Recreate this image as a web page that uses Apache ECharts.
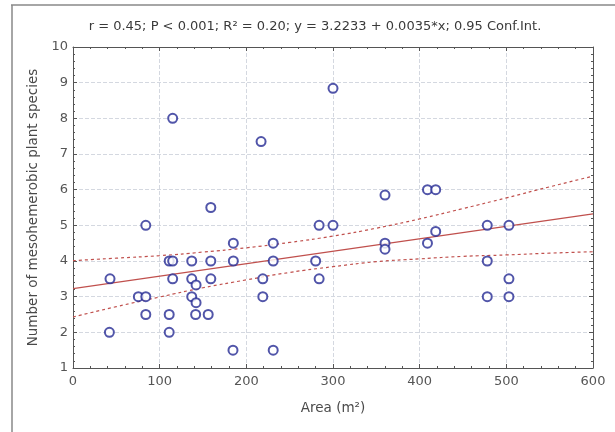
<!DOCTYPE html>
<html>
<head>
<meta charset="utf-8">
<script src="https://cdn.jsdelivr.net/npm/echarts@6/dist/echarts.min.js"></script>
<style>html,body{margin:0;padding:0;background:#fff}#c{width:615px;height:432px}</style>
</head>
<body>
<div id="c"></div>
<script>
const titleText = 'r = 0.45; P < 0.001; R\u00B2 = 0.20; y = 3.2233 + 0.0035*x; 0.95 Conf.Int.';
const xName = 'Area (m\u00B2)';
const yName = 'Number of mesohemerobic plant species';
const xTicks = [0, 100, 200, 300, 400, 500, 600];
const yTicks = [1, 2, 3, 4, 5, 6, 7, 8, 9, 10];

const areaValues = [42.7, 42, 84, 75.4, 84, 84, 111, 115, 115, 111, 111, 115, 137, 137, 137, 142, 142, 141.5,
  156, 159, 159, 159, 185, 185, 184.6, 217, 219, 219, 231, 231, 231, 300, 284, 300, 280, 284,
  360, 360, 360, 409, 418.5, 409, 418.5, 478, 503, 478, 503, 478, 503];
const speciesValues = [3.5, 2.0, 5.0, 3.0, 3.0, 2.5, 4.0, 4.0, 3.5, 2.5, 2.0, 8.0, 4.0, 3.5, 3.0, 3.33, 2.83, 2.5,
  2.5, 4.0, 3.5, 5.5, 4.5, 4.0, 1.5, 7.35, 3.5, 3.0, 4.5, 4.0, 1.5, 8.84, 5.0, 5.0, 4.0, 3.5,
  5.85, 4.5, 4.33, 6.0, 6.0, 4.5, 4.83, 5.0, 5.0, 4.0, 3.5, 3.0, 3.0];

const fitX = [0, 600];
const fitY = [3.2233, 5.3233];
const bandX = [0, 50, 100, 150, 200, 250, 300, 350, 400, 450, 500, 550, 600];
const bandUpper = [4.01, 4.08, 4.15, 4.25, 4.37, 4.52, 4.70, 4.92, 5.18, 5.47, 5.77, 6.08, 6.38];
const bandLower = [2.43, 2.72, 2.99, 3.25, 3.47, 3.68, 3.84, 3.98, 4.06, 4.13, 4.17, 4.22, 4.26];

const zip = (a, b) => a.map((v, i) => [v, b[i]]);
const chart = echarts.init(document.getElementById('c'), null, {renderer: 'canvas'});
const font = 'DejaVu Sans, Verdana, sans-serif';
const axisCol = '#555';
const gridCol = '#d4d8e0';
const redCol = '#c0504d';

const baseX = {
  type: 'value', min: 0, max: 600, interval: 100,
  axisLine: {show: true, onZero: false, lineStyle: {color: axisCol, width: 1}},
  axisTick: {show: true, inside: true, length: 4, lineStyle: {color: axisCol}},
  minorTick: {show: true, splitNumber: 5, length: 2, lineStyle: {color: axisCol}},
};
const baseY = {
  type: 'value', min: 1, max: 10, interval: 1,
  axisLine: {show: true, onZero: false, lineStyle: {color: axisCol, width: 1}},
  axisTick: {show: true, inside: true, length: 4, lineStyle: {color: axisCol}},
  minorTick: {show: true, splitNumber: 5, length: 2, lineStyle: {color: axisCol}},
};

chart.setOption({
  animation: false,
  backgroundColor: '#fff',
  title: {
    text: titleText, left: 310, top: 15, textAlign: 'center',
    textStyle: {fontFamily: font, fontSize: 13, fontWeight: 'normal', color: '#3a3a3a'}
  },
  graphic: [
    {type: 'line', shape: {x1: 11, y1: 5, x2: 615, y2: 5}, style: {stroke: '#888', lineWidth: 1.5}},
    {type: 'line', shape: {x1: 12, y1: 5, x2: 12, y2: 432}, style: {stroke: '#888', lineWidth: 1.5}}
  ],
  grid: {left: 73, right: 22, top: 47, bottom: 64, containLabel: false},
  xAxis: [
    Object.assign({}, baseX, {
      position: 'bottom', name: xName, nameLocation: 'middle', nameGap: 33,
      nameTextStyle: {fontFamily: font, fontSize: 13.5, color: '#4a4a4a'},
      data: xTicks,
      axisLabel: {fontFamily: font, fontSize: 13, color: '#555', margin: 7},
      splitLine: {show: true, lineStyle: {color: gridCol, type: 'dashed', width: 1}}
    }),
    Object.assign({}, baseX, {position: 'top', axisLabel: {show: false}, splitLine: {show: false}})
  ],
  yAxis: [
    Object.assign({}, baseY, {
      position: 'left', name: yName, nameLocation: 'middle', nameGap: 30,
      nameTextStyle: {fontFamily: font, fontSize: 13.5, color: '#4a4a4a'},
      axisLabel: {fontFamily: font, fontSize: 13, color: '#555', margin: 5},
      splitLine: {show: true, lineStyle: {color: gridCol, type: 'dashed', width: 1}}
    }),
    Object.assign({}, baseY, {position: 'right', axisLabel: {show: false}, splitLine: {show: false}})
  ],
  series: [
    {type: 'line', data: zip(bandX, bandUpper), smooth: true, symbol: 'none',
     lineStyle: {color: redCol, width: 1.2, type: [3, 3]}, z: 2},
    {type: 'line', data: zip(bandX, bandLower), smooth: true, symbol: 'none',
     lineStyle: {color: redCol, width: 1.2, type: [3, 3]}, z: 2},
    {type: 'line', data: zip(fitX, fitY), symbol: 'none',
     lineStyle: {color: redCol, width: 1.2}, z: 3},
    {type: 'scatter', data: zip(areaValues, speciesValues), symbol: 'circle', symbolSize: 9,
     itemStyle: {color: '#fff', borderColor: '#262a94', borderWidth: 2}, z: 5}
  ]
});
</script>
</body>
</html>
